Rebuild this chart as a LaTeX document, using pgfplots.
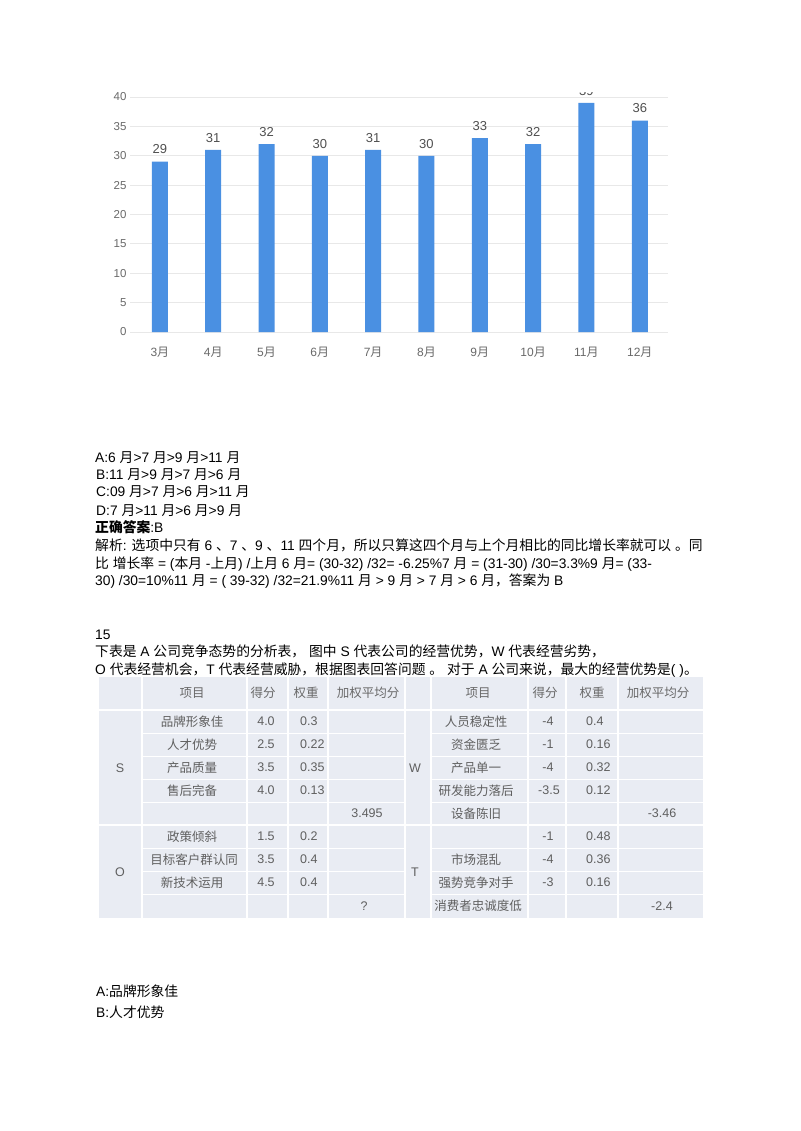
\documentclass[border=0pt]{standalone}
\usepackage{fontspec}
\setmainfont{Liberation Sans}
\newfontfamily\cjk{Noto Sans CJK SC}
\usepackage{pgfplots}
\pgfplotsset{compat=1.18}

% switch to the CJK font for Chinese characters automatically
\XeTeXinterchartokenstate=1
\newXeTeXintercharclass\cjkclass
\newcount\cjkc
\cjkc="2E80 \loop \XeTeXcharclass\cjkc=\cjkclass \ifnum\cjkc<"9FFF \advance\cjkc by 1 \repeat
\cjkc="FF00 \loop \XeTeXcharclass\cjkc=\cjkclass \ifnum\cjkc<"FFEF \advance\cjkc by 1 \repeat
\XeTeXinterchartoks 0 \cjkclass={\begingroup\cjk}
\XeTeXinterchartoks 4095 \cjkclass={\begingroup\cjk}
\XeTeXinterchartoks \cjkclass 0={\endgroup}
\XeTeXinterchartoks \cjkclass 4095={\endgroup}

\definecolor{barblue}{RGB}{74,144,226}
\definecolor{gridgray}{RGB}{232,232,232}
\definecolor{ticktext}{RGB}{105,105,105}
\definecolor{valtext}{RGB}{80,80,80}
\definecolor{tablebg}{RGB}{233,236,243}
\definecolor{tabletext}{RGB}{95,95,95}

\newcommand\bodyfont{\fontsize{13.8}{17}\selectfont}
\newcommand\tabfont{\fontsize{12.5}{15}\selectfont}

\begin{document}
\begin{tikzpicture}[x=1pt,y=-1pt]
\useasboundingbox (0,0) rectangle (800,1131);
\fill[white] (0,0) rectangle (800,1131);

% monthly chart (top of the label over 11月 is cut off, as in the page)
\begin{scope}
\clip (0,93) rectangle (800,420);
\begin{axis}[
    at={(130pt,-332pt)}, anchor=south west,
    scale only axis,
    width=538pt, height=235pt,
    xmin=-0.56, xmax=9.53,
    ymin=0, ymax=40,
    ytick={0,5,...,40},
    xtick={0,...,9},
    xticklabels={3月,4月,5月,6月,7月,8月,9月,10月,11月,12月},
    axis line style={draw=none},
    major tick style={draw=none},
    ymajorgrids,
    grid style={gridgray, line width=1pt},
    ybar, bar width=16pt,
    nodes near coords,
    nodes near coords style={font=\fontsize{13}{14}\selectfont, text=valtext, yshift=4pt},
    yticklabel style={font=\fontsize{11.5}{13}\selectfont, text=ticktext},
    xticklabel style={font=\fontsize{12}{14}\selectfont, text=ticktext, yshift=-7pt},
    /pgf/number format/assume math mode=true,
]
\addplot[fill=barblue, draw=none] coordinates {
    (0,29) (1,31) (2,32) (3,30) (4,31) (5,30) (6,33) (7,32) (8,39) (9,36)
};
\end{axis}
\end{scope}

% answer options and explanation
\begin{scope}[every node/.style={anchor=base west, inner sep=0pt, font=\bodyfont}]
\node at (95,462) {A:6 月>7 月>9 月>11 月};
\node at (96,479) {B:11 月>9 月>7 月>6 月};
\node at (96,496) {C:09 月>7 月>6 月>11 月};
\node at (96,515) {D:7 月>11 月>6 月>9 月};
\node at (95,532) {{\bfseries 正确答案}:B};
\node at (95,550) {解析: 选项中只有 6 、7 、9 、11 四个月，所以只算这四个月与上个月相比的同比增长率就可以 。同};
\node at (95,568) {比 增长率 = (本月 -上月) /上月 6 月= (30-32) /32= -6.25\%7 月 = (31-30) /30=3.3\%9 月= (33-};
\node at (95,585) {30) /30=10\%11 月 = ( 39-32) /32=21.9\%11 月 > 9 月 > 7 月 > 6 月，答案为 B};
\node at (95,639) {15};
\node at (95,656) {下表是 A 公司竞争态势的分析表， 图中 S 代表公司的经营优势，W 代表经营劣势，};
\node at (95,674) {O 代表经营机会，T 代表经营威胁，根据图表回答问题 。 对于 A 公司来说，最大的经营优势是( )。};
\node at (96,996) {A:品牌形象佳};
\node at (96,1017) {B:人才优势};
\end{scope}

% SWOT table
\fill[tablebg] (99,677) rectangle (703,918);
\foreach \x in {142,247,288,328,405,431,528,566,618}
    \draw[white, line width=1.2pt] (\x,677) -- (\x,918);
\draw[white, line width=1.2pt] (99,710) -- (703,710);
\draw[white, line width=1.2pt] (99,825) -- (703,825);
\foreach \y in {733,756,779,802,848,871,894} {
    \draw[white, line width=0.8pt] (142,\y) -- (405,\y);
    \draw[white, line width=0.8pt] (431,\y) -- (703,\y);
}
\begin{scope}[every node/.style={inner sep=0pt, font=\tabfont, text=tabletext}]
% header
\node[text=ticktext] at (192,693) {项目};
\node[text=ticktext] at (263,693) {得分};
\node[text=ticktext] at (306,693) {权重};
\node[text=ticktext] at (368,693) {加权平均分};
\node[text=ticktext] at (478,693) {项目};
\node[text=ticktext] at (545,693) {得分};
\node[text=ticktext] at (592,693) {权重};
\node[text=ticktext] at (658,693) {加权平均分};
% group letters
\node at (120,768) {S};
\node at (120,872) {O};
\node at (415,768) {W};
\node at (415,872) {T};
% left half
\node at (192,721.5) {品牌形象佳};
\node at (192,744.5) {人才优势};
\node at (192,767.5) {产品质量};
\node at (192,790.5) {售后完备};
\node at (192,836.5) {政策倾斜};
\node at (194,859.5) {目标客户群认同};
\node at (192,882.5) {新技术运用};
\node at (266,721.5) {4.0};
\node at (266,744.5) {2.5};
\node at (266,767.5) {3.5};
\node at (266,790.5) {4.0};
\node at (266,836.5) {1.5};
\node at (266,859.5) {3.5};
\node at (266,882.5) {4.5};
\node[anchor=west] at (300,721.5) {0.3};
\node[anchor=west] at (300,744.5) {0.22};
\node[anchor=west] at (300,767.5) {0.35};
\node[anchor=west] at (300,790.5) {0.13};
\node[anchor=west] at (300,836.5) {0.2};
\node[anchor=west] at (300,859.5) {0.4};
\node[anchor=west] at (300,882.5) {0.4};
\node at (367,813.5) {3.495};
\node at (364,906) {?};
% right half
\node at (476,721.5) {人员稳定性};
\node at (476,744.5) {资金匮乏};
\node at (476,767.5) {产品单一};
\node at (476,790.5) {研发能力落后};
\node at (476,813.5) {设备陈旧};
\node at (476,859.5) {市场混乱};
\node at (476,882.5) {强势竞争对手};
\node at (478,906) {消费者忠诚度低};
\node at (548,721.5) {-4};
\node at (548,744.5) {-1};
\node at (548,767.5) {-4};
\node at (549,790.5) {-3.5};
\node at (548,836.5) {-1};
\node at (548,859.5) {-4};
\node at (548,882.5) {-3};
\node[anchor=west] at (586,721.5) {0.4};
\node[anchor=west] at (586,744.5) {0.16};
\node[anchor=west] at (586,767.5) {0.32};
\node[anchor=west] at (586,790.5) {0.12};
\node[anchor=west] at (586,836.5) {0.48};
\node[anchor=west] at (586,859.5) {0.36};
\node[anchor=west] at (586,882.5) {0.16};
\node at (662,813.5) {-3.46};
\node at (662,906) {-2.4};
\end{scope}
\end{tikzpicture}
\end{document}
